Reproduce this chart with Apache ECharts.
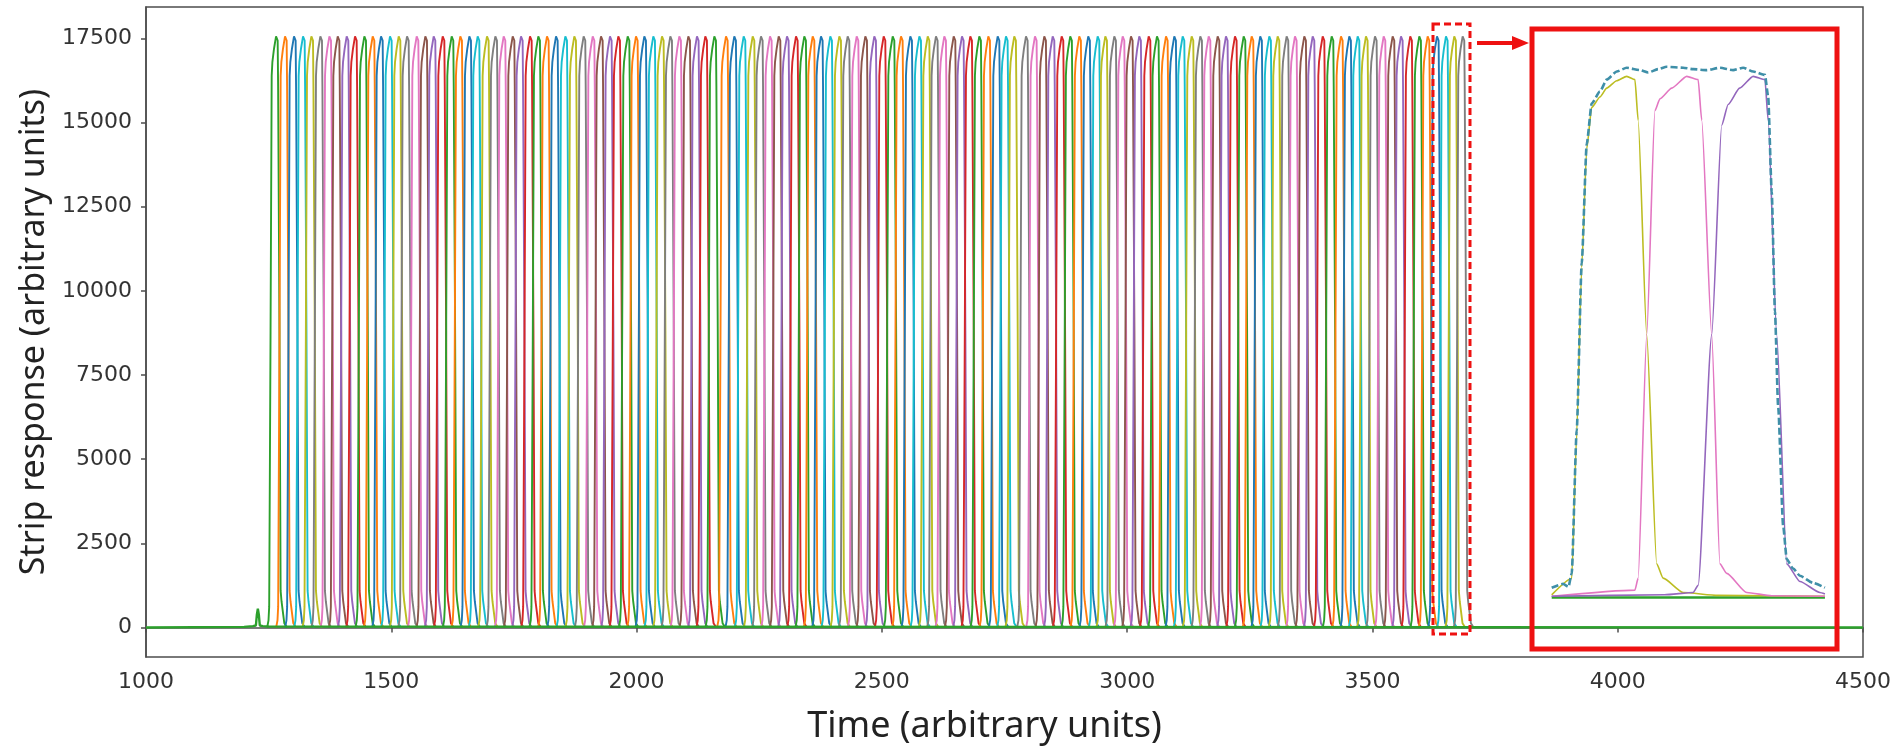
<!DOCTYPE html>
<html>
<head>
<meta charset="utf-8">
<script src="https://cdn.jsdelivr.net/npm/echarts@6/dist/echarts.min.js"></script>
<style>
    html, body {margin: 0; padding: 0; background: #fff;}
    #chart {width: 1901px; height: 750px;}
</style>
</head>
<body>
<div id="chart"></div>
<script>
// pulse centres (time), left to right
const pulseCenters = [
    1263, 1281.3, 1299.6, 1318, 1335, 1353.3, 1371.7, 1388.7, 1407, 1424,
    1443, 1460, 1477, 1495.3, 1513, 1530, 1549.7, 1567.3, 1584.3, 1602.7,
    1621, 1638.6, 1657, 1674, 1693, 1710, 1727, 1745.4, 1762.3, 1780.7,
    1797.6, 1815.3, 1833.7, 1852.7, 1871, 1890, 1908.5, 1925.4, 1943.7, 1960.7,
    1979.8, 1996.7, 2013.7, 2032, 2049.7, 2066.7, 2085, 2103.4, 2121, 2138,
    2156.4, 2180.2, 2197.1, 2216.2, 2234.6, 2251.5, 2269.9, 2287.6, 2304.5, 2322.9,
    2339.8, 2356.9, 2373.8, 2392.8, 2411.2, 2428.2, 2446.6, 2464.2, 2482.5, 2501.6,
    2520, 2536.9, 2555.9, 2574.3, 2591.4, 2608.2, 2625.2, 2644.3, 2661.2, 2678.2,
    2696.5, 2714.9, 2734, 2750.9, 2767.8, 2791.7, 2810, 2829, 2846.1, 2864.4,
    2881.9, 2900.3, 2918.6, 2937.8, 2953.4, 2971.7, 2988.8, 3005.7, 3022.6, 3041.8,
    3058.7, 3077.1, 3094, 3111.1, 3129.4, 3147, 3164.1, 3182.4, 3199.3, 3217.7,
    3235.4, 3251.7, 3269.2, 3287.6, 3304.7, 3323, 3340, 3359, 3376.1, 3396.5,
    3414.8, 3433.8, 3450.7, 3467.8, 3484.7, 3503.1, 3520.8, 3539.1, 3556.1, 3575,
    3593.4, 3610.5, 3629.5, 3647.8, 3664.7, 3681.8
];

// one strip pulse, offsets from its centre and response values
const pulseDt = [-16, -13.3, -11.9, -9.1, -6.8, -5.4, -2, 2.1, 5.4, 6.3, 9.1, 11.4, 13.3, 18.9, 24.5];
const pulseV = [0, 210, 612, 8823, 16390, 16792, 17200, 17560, 17436, 16068, 8823, 1095, 773, 129, 0];

// baseline of the first strip with the small early bump
const baseT = [1000, 1200, 1218, 1224, 1226, 1228, 1230, 1232, 1238, 1250, 4500];
const baseV = [0, 20, 40, 60, 380, 560, 380, 60, 40, 30, 0];

// inset (zoom on the last pulses)
const envT = [3623.4, 3626.6, 3628.1, 3629.0, 3630.4, 3631.8, 3633.2, 3634.6, 3636.9, 3638.8, 3641.6, 3644.4,
    3648.1, 3650.4, 3653.2, 3655.6, 3660.2, 3663.0, 3666.8, 3670.5, 3674.2, 3677.0, 3679.8, 3683.1,
    3684.0, 3685.0, 3685.9, 3686.8, 3688.2, 3689.2, 3691.0, 3692.9, 3696.6, 3699.9];
const envV = [290, 419, 322, 773, 5603, 11238, 15263, 16631, 17034, 17436, 17710, 17839,
    17758, 17678, 17791, 17871, 17839, 17791, 17758, 17839, 17758, 17839, 17710, 17597,
    16873, 13653, 9628, 6408, 2383, 1256, 934, 692, 451, 290];
const yellowT = [3623.4, 3629.0, 3630.4, 3631.8, 3633.2, 3634.6, 3636.9, 3638.8, 3641.6, 3644.4, 3646.7, 3647.6,
    3650.0, 3652.8, 3654.6, 3660.2, 3670, 3699.9];
const yellowV = [48, 600, 5500, 11100, 15100, 16500, 16850, 17150, 17400, 17549, 17436, 16068,
    8823, 1095, 612, 129, 30, 0];
const pinkT = [3623.4, 3646.7, 3647.6, 3650.0, 3652.3, 3653.7, 3657, 3661.2, 3664.4, 3665.4, 3668.2, 3670.5,
    3672.4, 3678.0, 3685, 3699.9];
const pinkV = [0, 209, 612, 8823, 16390, 16792, 17150, 17549, 17436, 16068, 8823, 1095,
    773, 129, 20, 0];
const purpleT = [3623.4, 3655, 3663.0, 3664.4, 3668.2, 3671.0, 3672.8, 3676, 3679.8, 3683.1, 3684.0, 3686.4,
    3689.2, 3692.9, 3698.5, 3699.9];
const purpleV = [0, 50, 129, 370, 8823, 15900, 16600, 17150, 17549, 17436, 16068, 8823,
    1095, 500, 129, 80];
const insetBaseT = [3623.4, 3699.9];
const insetBaseV = [-40, -40];

const xTicks = [1000, 1500, 2000, 2500, 3000, 3500, 4000, 4500];
const yTicks = [0, 2500, 5000, 7500, 10000, 12500, 15000, 17500];

// colour order of the strips along time (tab10 colours)
const stripColors = ['#2ca02c', '#ff7f0e', '#1f77b4', '#17becf', '#bcbd22',
    '#7f7f7f', '#e377c2', '#8c564b', '#9467bd', '#d62728'];

const zip = (ts, vs) => ts.map((t, i) => [t, vs[i]]);

const chart = echarts.init(document.getElementById('chart'));

const series = [];
pulseCenters.forEach((c, i) => {
    series.push({
        type: 'line',
        xAxisIndex: 0, yAxisIndex: 0,
        data: pulseDt.map((d, k) => [c + d, pulseV[k]]),
        symbol: 'none',
        lineStyle: {color: stripColors[i % 10], width: 1.9},
    });
});
series.push({
    type: 'line', xAxisIndex: 0, yAxisIndex: 0,
    data: zip(baseT, baseV), symbol: 'none', z: 3,
    lineStyle: {color: '#2ca02c', width: 2.4},
});

// inset curves
const insetLine = (ts, vs, color, width, extra) => Object.assign({
    type: 'line', xAxisIndex: 1, yAxisIndex: 1,
    data: zip(ts, vs), symbol: 'none',
    smooth: 0.2, smoothMonotone: 'x',
    lineStyle: {color, width},
}, extra || {});
series.push(insetLine(insetBaseT, insetBaseV, '#2ca02c', 2.5));
series.push(insetLine(yellowT, yellowV, '#bcbd22', 1.6));
series.push(insetLine(pinkT, pinkV, '#e377c2', 1.6));
series.push(insetLine(purpleT, purpleV, '#9467bd', 1.6));
series.push(insetLine(envT, envV, '#3f8fa8', 2.5, {
    lineStyle: {color: '#3f8fa8', width: 2.6, type: [7, 3]}, z: 4,
}));

const axisColor = '#4d4d4d';
const plain = v => String(v);
const tickFont = {fontFamily: 'DejaVu Sans', fontSize: 22, color: '#333', formatter: plain};

chart.setOption({
    animation: false,
    grid: [
        {left: 146, right: 38, top: 7, bottom: 79, show: true,
            borderColor: axisColor, borderWidth: 1.5, backgroundColor: 'transparent'},
        {left: 1536, width: 300, top: 60, height: 560},
    ],
    xAxis: [
        {
            type: 'value', gridIndex: 0, min: 1000, max: 4500, interval: 500,
            name: 'Time (arbitrary units)', nameLocation: 'middle', nameGap: 52,
            nameTextStyle: {fontFamily: 'Noto Sans', fontSize: 36, color: '#222', padding: [0, 40, 0, 0]},
            axisLine: {lineStyle: {color: axisColor, width: 1.5}},
            axisTick: {length: 5, lineStyle: {color: axisColor, width: 1.5}},
            axisLabel: Object.assign({margin: 14, customValues: xTicks}, tickFont),
            splitLine: {show: false},
        },
        {type: 'value', gridIndex: 1, min: 3619, max: 3703, show: false, splitLine: {show: false}},
    ],
    yAxis: [
        {
            type: 'value', gridIndex: 0, min: -876, max: 18432,
            name: 'Strip response (arbitrary units)', nameLocation: 'middle', nameGap: 95,
            nameTextStyle: {fontFamily: 'Noto Sans', fontSize: 34, color: '#222'},
            axisLine: {show: true, lineStyle: {color: axisColor, width: 1.5}},
            axisTick: {show: true, length: 5, customValues: yTicks, lineStyle: {color: axisColor, width: 1.5}},
            axisLabel: Object.assign({margin: 14, customValues: yTicks}, tickFont),
            splitLine: {show: false},
        },
        {type: 'value', gridIndex: 1, min: -800, max: 18100, show: false, splitLine: {show: false}},
    ],
    series,
    graphic: [
        // dashed selection box
        {type: 'rect', shape: {x: 1433, y: 24, width: 37, height: 610}, z: 100,
            style: {fill: 'none', stroke: '#ee1111', lineWidth: 3, lineDash: [7, 4]}},
        // arrow
        {type: 'line', shape: {x1: 1477, y1: 43, x2: 1514, y2: 43}, z: 100,
            style: {stroke: '#ee1111', lineWidth: 4}},
        {type: 'polygon', shape: {points: [[1512, 36], [1529, 43], [1512, 50]]}, z: 100,
            style: {fill: '#ee1111'}},
        // inset frame
        {type: 'rect', shape: {x: 1532, y: 29, width: 305, height: 620}, z: 100,
            style: {fill: 'none', stroke: '#ee1111', lineWidth: 5}},
    ],
});
</script>
</body>
</html>
